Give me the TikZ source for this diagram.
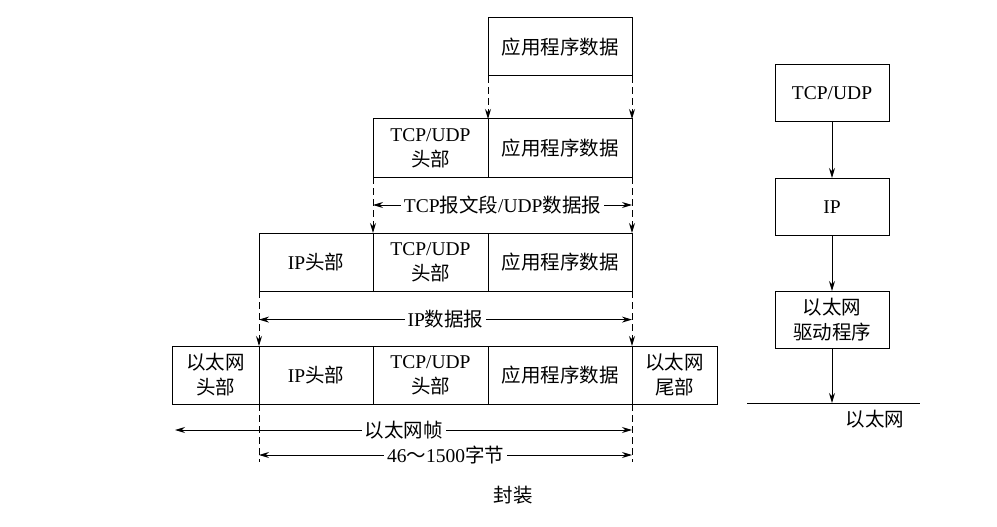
\documentclass[tikz,border=0pt]{standalone}
\usepackage{fontspec}
\setmainfont{Liberation Serif}
\newfontfamily\cjk{Noto Sans CJK SC}
\usetikzlibrary{arrows.meta,positioning,calc}
\newcommand{\zh}[1]{{\cjk #1}}

\begin{document}
\begin{tikzpicture}[x=1pt, y=-1pt,
  font=\fontsize{19.5pt}{25pt}\selectfont,
  cell/.style={draw, line width=1pt, minimum height=58pt, inner sep=0pt,
               outer sep=0pt, align=center},
  layer/.style={draw, line width=1pt, minimum width=114pt, minimum height=57pt,
                inner sep=0pt, align=center},
  arr/.style={-{Stealth[length=10pt, width=6pt]}, line width=1pt},
  dasharr/.style={arr, dash pattern=on 7pt off 4pt},
  dashln/.style={line width=1pt, dash pattern=on 7pt off 4pt},
  dim/.style={{Stealth[length=10pt, width=6pt]}-{Stealth[length=10pt, width=6pt]},
              line width=1pt},
  lbl/.style={fill=white, inner sep=3pt}
]
\useasboundingbox (0,0) rectangle (997,527);

% layer 1
\node[cell, minimum width=144pt] (app1) at (560,47) {\zh{应用程序数据}};

% layer 2
\node[cell, minimum width=115pt] (tcph2) at (430.5,148) {TCP/UDP\\\zh{头部}};
\node[cell, minimum width=144pt, right=0pt of tcph2] (app2) {\zh{应用程序数据}};

% layer 3
\node[cell, minimum width=114pt] (iph3) at (316,262) {IP\zh{头部}};
\node[cell, minimum width=115pt, right=0pt of iph3] (tcph3) {TCP/UDP\\\zh{头部}};
\node[cell, minimum width=144pt, right=0pt of tcph3] (app3) {\zh{应用程序数据}};

% layer 4
\node[cell, minimum width=87pt] (ethh4) at (215.5,375) {\zh{以太网}\\\zh{头部}};
\node[cell, minimum width=114pt, right=0pt of ethh4] (iph4) {IP\zh{头部}};
\node[cell, minimum width=115pt, right=0pt of iph4] (tcph4) {TCP/UDP\\\zh{头部}};
\node[cell, minimum width=144pt, right=0pt of tcph4] (app4) {\zh{应用程序数据}};
\node[cell, minimum width=85pt, right=0pt of app4] (etht4) {\zh{以太网}\\\zh{尾部}};

% down arrows between layers
\draw[dasharr] (app1.south west) -- (app2.north west);
\draw[dasharr] (app1.south east) -- (app2.north east);
\draw[dasharr] (tcph2.south west) -- (tcph3.north west);
\draw[dasharr] (app2.south east) -- (app3.north east);
\draw[dasharr] (iph3.south west) -- (iph4.north west);
\draw[dasharr] (app3.south east) -- (app4.north east);

% sizes
\draw[dim] ($(tcph2.south west)!.5!(tcph3.north west)$)
  -- node[lbl] {TCP\zh{报文段}/UDP\zh{数据报}}
  ($(app2.south east)!.5!(app3.north east)$);
\draw[dim] ($(iph3.south west)!.52!(iph4.north west)$)
  -- node[lbl] {IP\zh{数据报}}
  ($(app3.south east)!.52!(app4.north east)$);

\coordinate (e1) at ([yshift=-58pt]iph4.south west);
\coordinate (e2) at ([yshift=-58pt]app4.south east);
\draw[dashln] (iph4.south west) -- (e1);
\draw[dashln] (app4.south east) -- (e2);

\coordinate (f1) at ([xshift=3pt, yshift=-26pt]ethh4.south west);
\coordinate (f2) at ([yshift=-26pt]app4.south east);
\draw[dim] (f1) -- node[lbl] {\zh{以太网帧}} (f2);

\coordinate (g1) at ([yshift=-51pt]iph4.south west);
\coordinate (g2) at ([yshift=-51pt]app4.south east);
\draw[dim] (g1) -- node[lbl] {46\zh{～}1500\zh{字节}} (g2);

\node (cap) at (513,495) {\zh{封装}};

% protocol stack
\node[layer] (tcp) at (832,93.5) {TCP/UDP};
\node[layer] (ip) at (832,207) {IP};
\node[layer] (drv) at (832,320) {\zh{以太网}\\\zh{驱动程序}};
\coordinate (netl) at (747,403);
\coordinate (netr) at (920,403);
\coordinate (net) at (832,403);
\draw[line width=1pt] (netl) -- (netr);
\draw[arr] (tcp) -- (ip);
\draw[arr] (ip) -- (drv);
\draw[arr] (drv) -- (net);
\node (eth) at (875,419) {\zh{以太网}};
\end{tikzpicture}
\end{document}
